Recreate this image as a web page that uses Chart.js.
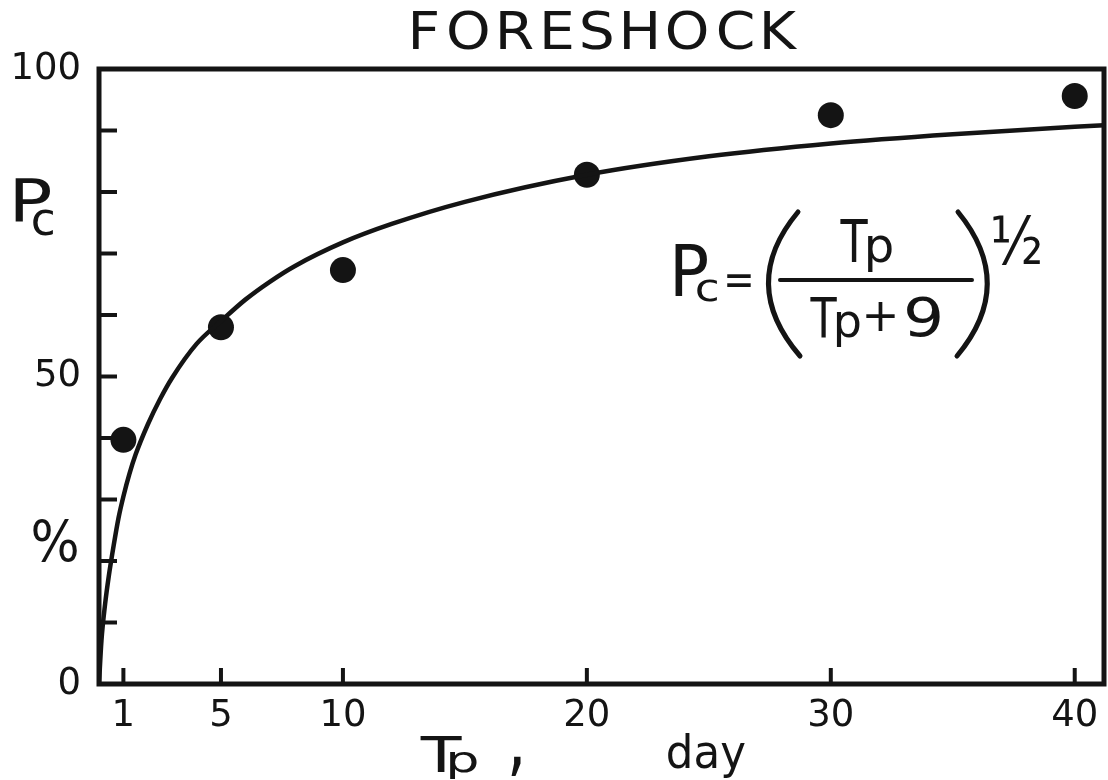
<!DOCTYPE html>
<html>
<head>
<meta charset="utf-8">
<script src="https://cdn.jsdelivr.net/npm/chart.js@4/dist/chart.umd.min.js"></script>
<style>
  html, body { margin: 0; padding: 0; background: #ffffff; }
  #wrap { width: 1108px; height: 780px; position: relative; }
</style>
</head>
<body>
<div id="wrap"><canvas id="c" width="1108" height="780"></canvas></div>
<script>
// ---- data ----
const obsT = [1, 5, 10, 20, 30, 40];                 // observed Tp (day)
const obsP = [39.7, 58.0, 67.3, 82.8, 92.5, 95.6];   // observed Pc (%)
// drawn curve
const curveT = [0, 0.1, 0.25, 0.4, 0.6, 0.8, 1, 1.25, 1.5, 2, 2.5, 3, 4, 5, 6, 7, 8, 10, 12, 15, 20, 25, 30, 35, 40, 41.2];
const curveP = [0, 7, 13, 17.5, 22.5, 27, 30.5, 34.2, 37.3, 42.2, 46.3, 49.8, 55.3, 59, 62.5, 65.4, 67.9, 71.8, 74.8, 78.4, 82.8, 85.8, 87.9, 89.4, 90.6, 90.85];
const xTickValues = [1, 5, 10, 20, 30, 40];
const yTickValues = [0, 10, 20, 30, 40, 50, 60, 70, 80, 90, 100];
const yLabelValues = [0, 50, 100];

const INK = '#141414';
const FONT = 'DejaVu Sans';

function boxText(ctx, str, l, t, r, b, family) {
  ctx.save();
  ctx.font = '100px "' + (family || FONT) + '"';
  const m = ctx.measureText(str);
  const inkW = m.actualBoundingBoxLeft + m.actualBoundingBoxRight;
  const inkH = m.actualBoundingBoxAscent + m.actualBoundingBoxDescent;
  const sx = (r - l) / inkW, sy = (b - t) / inkH;
  ctx.translate(l, t);
  ctx.scale(sx, sy);
  ctx.textAlign = 'left';
  ctx.textBaseline = 'alphabetic';
  ctx.fillStyle = INK;
  ctx.fillText(str, m.actualBoundingBoxLeft, m.actualBoundingBoxAscent);
  ctx.restore();
}

// letters at a uniform size, spread evenly between l and r
function spacedText(ctx, str, l, r, capTop, baseline, widen) {
  ctx.save();
  ctx.font = '100px "' + FONT + '"';
  const cap = ctx.measureText('H').actualBoundingBoxAscent;
  const size = 100 * (baseline - capTop) / cap;
  ctx.font = size + 'px "' + FONT + '"';
  const chars = str.split('');
  const ms = chars.map(ch => ctx.measureText(ch));
  const inks = ms.map(m => (m.actualBoundingBoxLeft + m.actualBoundingBoxRight) * widen);
  const total = inks.reduce((s, w) => s + w, 0);
  const gap = (r - l - total) / (chars.length - 1);
  ctx.fillStyle = INK;
  ctx.textAlign = 'left';
  ctx.textBaseline = 'alphabetic';
  let x = l;
  chars.forEach((ch, i) => {
    ctx.save();
    ctx.translate(x, baseline);
    ctx.scale(widen, 1);
    ctx.fillText(ch, ms[i].actualBoundingBoxLeft, 0);
    ctx.restore();
    x += inks[i] + gap;
  });
  ctx.restore();
}

const framePlugin = {
  id: 'frame',
  beforeDatasetsDraw(chart) {
    const ctx = chart.ctx, a = chart.chartArea;
    const xs = chart.scales.x, ys = chart.scales.y;
    ctx.save();
    ctx.strokeStyle = INK;
    ctx.lineWidth = 5;
    ctx.lineJoin = 'miter';
    ctx.strokeRect(a.left, a.top, a.right - a.left, a.bottom - a.top);
    ctx.lineWidth = 4;
    ctx.lineCap = 'butt';
    // inward tick marks
    ys.ticks.forEach(t => {
      if (t.value <= 0 || t.value >= 100) return;
      const y = ys.getPixelForValue(t.value);
      ctx.beginPath(); ctx.moveTo(a.left, y); ctx.lineTo(a.left + 18, y); ctx.stroke();
    });
    xs.ticks.forEach(t => {
      const x = xs.getPixelForValue(t.value);
      ctx.beginPath(); ctx.moveTo(x, a.bottom); ctx.lineTo(x, a.bottom - 16); ctx.stroke();
    });
    ctx.restore();
  },
  afterDraw(chart) {
    const ctx = chart.ctx;
    // title
    spacedText(ctx, 'FORESHOCK', 412, 798, 12, 49, 1.12);
    // y axis label
    boxText(ctx, 'P', 15, 178, 50, 222);
    boxText(ctx, 'c', 33, 208, 53, 235);
    boxText(ctx, '%', 33, 520, 77, 563);
    // x axis label
    boxText(ctx, 'T', 420, 735, 462, 772);
    boxText(ctx, 'p', 450, 752, 477, 779);
    boxText(ctx, ',', 511, 757, 521, 777);
    boxText(ctx, 'day', 668, 733, 745, 778);
    // formula
    boxText(ctx, 'P', 675, 245, 707, 297);
    boxText(ctx, 'c', 697, 279, 717, 301);
    boxText(ctx, '=', 727, 274, 751, 287);
    boxText(ctx, 'T', 840, 218, 868, 262);
    boxText(ctx, 'p', 868, 235, 892, 272);
    boxText(ctx, 'T', 810, 296, 837, 337);
    boxText(ctx, 'p', 837, 311, 860, 347);
    boxText(ctx, '+', 866, 302, 895, 331);
    boxText(ctx, '9', 907, 297, 940, 337);
    boxText(ctx, '½', 993, 215, 1040, 265);
    ctx.save();
    ctx.strokeStyle = INK;
    ctx.lineWidth = 4;
    ctx.lineCap = 'round';
    ctx.beginPath(); ctx.moveTo(780, 280); ctx.lineTo(972, 280); ctx.stroke();
    ctx.lineWidth = 5;
    ctx.beginPath(); ctx.moveTo(798, 212); ctx.quadraticCurveTo(738, 284, 800, 356); ctx.stroke();
    ctx.beginPath(); ctx.moveTo(958, 212); ctx.quadraticCurveTo(1017, 284, 957, 356); ctx.stroke();
    ctx.restore();
  }
};

new Chart(document.getElementById('c'), {
  type: 'line',
  data: {
    datasets: [
      {
        label: 'fit',
        data: curveT.map((t, i) => ({ x: t, y: curveP[i] })),
        borderColor: INK,
        borderWidth: 4.5,
        pointRadius: 0,
        cubicInterpolationMode: 'monotone',
        fill: false
      },
      {
        label: 'observed',
        data: obsT.map((t, i) => ({ x: t, y: obsP[i] })),
        showLine: false,
        pointRadius: 13,
        pointBackgroundColor: INK,
        pointBorderColor: INK,
        pointBorderWidth: 0
      }
    ]
  },
  options: {
    responsive: false,
    animation: false,
    devicePixelRatio: 1,
    layout: { autoPadding: false, padding: { top: 69, right: 4, left: 0, bottom: 0 } },
    plugins: { legend: { display: false }, tooltip: { enabled: false }, title: { display: false } },
    scales: {
      x: {
        type: 'linear',
        min: 0,
        max: 41.2,
        afterBuildTicks: s => { s.ticks = xTickValues.map(v => ({ value: v })); },
        afterFit: s => { s.height = 96; s.paddingLeft = 0; s.paddingRight = 0; },
        grid: { display: false, drawTicks: false },
        border: { display: false },
        ticks: {
          autoSkip: false, maxRotation: 0, padding: 10,
          color: INK,
          font: { family: FONT, size: 37 },
          callback: v => String(v)
        }
      },
      y: {
        type: 'linear',
        min: 0,
        max: 100,
        afterBuildTicks: s => { s.ticks = yTickValues.map(v => ({ value: v })); },
        afterFit: s => { s.width = 99; s.paddingTop = 0; s.paddingBottom = 0; },
        grid: { display: false, drawTicks: false },
        border: { display: false },
        ticks: {
          autoSkip: false, padding: 18,
          color: INK,
          font: { family: FONT, size: 37 },
          callback: v => (yLabelValues.includes(v) ? String(v) : '')
        }
      }
    }
  },
  plugins: [framePlugin]
});
</script>
</body>
</html>
